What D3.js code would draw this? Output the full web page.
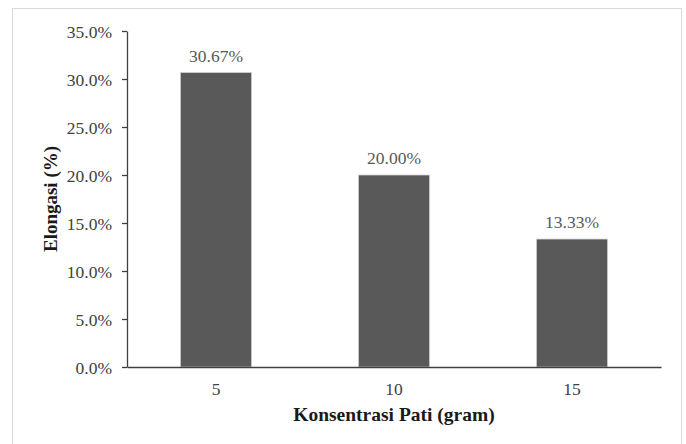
<!DOCTYPE html>
<html>
<head>
<meta charset="utf-8">
<script src="https://cdn.jsdelivr.net/npm/d3@7"></script>
<style>
  body { margin: 0; background: #fff; }
</style>
</head>
<body>
<div id="chart"></div>
<script>
// data
var categories = ["5", "10", "15"];
var values = [30.67, 20.00, 13.33];
var yTicks = [0, 5, 10, 15, 20, 25, 30, 35];

var serif = "'Liberation Serif', 'DejaVu Serif', serif";
var width = 686, height = 444;
var margin = {top: 31, right: 25, bottom: 77, left: 127};

var svg = d3.select("#chart").append("svg")
    .attr("width", width)
    .attr("height", height);

// chart area frame
svg.append("rect")
    .attr("x", 12.5)
    .attr("y", 8.5)
    .attr("width", 669)
    .attr("height", 460)
    .attr("fill", "#fff")
    .attr("stroke", "#d9d9d9")
    .attr("stroke-width", 1);

var x = d3.scaleBand()
    .domain(categories)
    .range([margin.left, width - margin.right])
    .paddingInner(0.6)
    .paddingOuter(0.3);

var y = d3.scaleLinear()
    .domain([0, 35])
    .range([height - margin.bottom, margin.top]);

// bars
svg.append("g")
  .selectAll("rect")
  .data(values)
  .enter().append("rect")
    .attr("x", function(d, i) { return x(categories[i]); })
    .attr("y", function(d) { return y(d); })
    .attr("width", x.bandwidth())
    .attr("height", function(d) { return y(0) - y(d); })
    .attr("fill", "#595959")
    .attr("stroke", "#d0d0d0")
    .attr("stroke-width", 0.8);

// value labels
svg.append("g")
  .selectAll("text")
  .data(values)
  .enter().append("text")
    .attr("x", function(d, i) { return x(categories[i]) + x.bandwidth() / 2; })
    .attr("y", function(d) { return y(d) - 11; })
    .attr("text-anchor", "middle")
    .attr("fill", "#595959")
    .style("font-family", serif)
    .style("font-size", "17.5px")
    .text(function(d) { return d.toFixed(2) + "%"; });

// y axis
var yAxis = svg.append("g")
    .attr("transform", "translate(" + margin.left + ",0)")
    .call(d3.axisLeft(y).tickValues(yTicks).tickSize(5).tickSizeOuter(0)
      .tickFormat(function(d) { return d.toFixed(1) + "%"; }));
yAxis.attr("font-family", null);
yAxis.select(".domain").attr("stroke", "#404040").attr("stroke-width", 1.3);
yAxis.selectAll(".tick line").attr("stroke", "#404040").attr("stroke-width", 1.3);
yAxis.selectAll(".tick text")
    .attr("x", -15)
    .attr("dy", "0.36em")
    .attr("fill", "#404040")
    .style("font-family", serif)
    .style("font-size", "17.5px");

// x axis
var xAxis = svg.append("g")
    .attr("transform", "translate(0," + y(0) + ")")
    .call(d3.axisBottom(x).tickSize(0).tickSizeOuter(0));
xAxis.attr("font-family", null);
xAxis.select(".domain").attr("stroke", "#404040").attr("stroke-width", 1.3);
xAxis.selectAll(".tick text")
    .attr("y", 28)
    .attr("dy", 0)
    .attr("fill", "#404040")
    .style("font-family", serif)
    .style("font-size", "17.5px");

// axis titles
svg.append("text")
    .attr("x", (margin.left + width - margin.right) / 2)
    .attr("y", 421)
    .attr("text-anchor", "middle")
    .attr("font-weight", "bold")
    .attr("fill", "#1a1a1a")
    .style("font-family", serif)
    .style("font-size", "19.5px")
    .text("Konsentrasi Pati (gram)");

svg.append("text")
    .attr("transform", "translate(57," + ((margin.top + height - margin.bottom) / 2) + ") rotate(-90)")
    .attr("text-anchor", "middle")
    .attr("font-weight", "bold")
    .attr("fill", "#1a1a1a")
    .style("font-family", serif)
    .style("font-size", "19px")
    .text("Elongasi (%)");
</script>
</body>
</html>
